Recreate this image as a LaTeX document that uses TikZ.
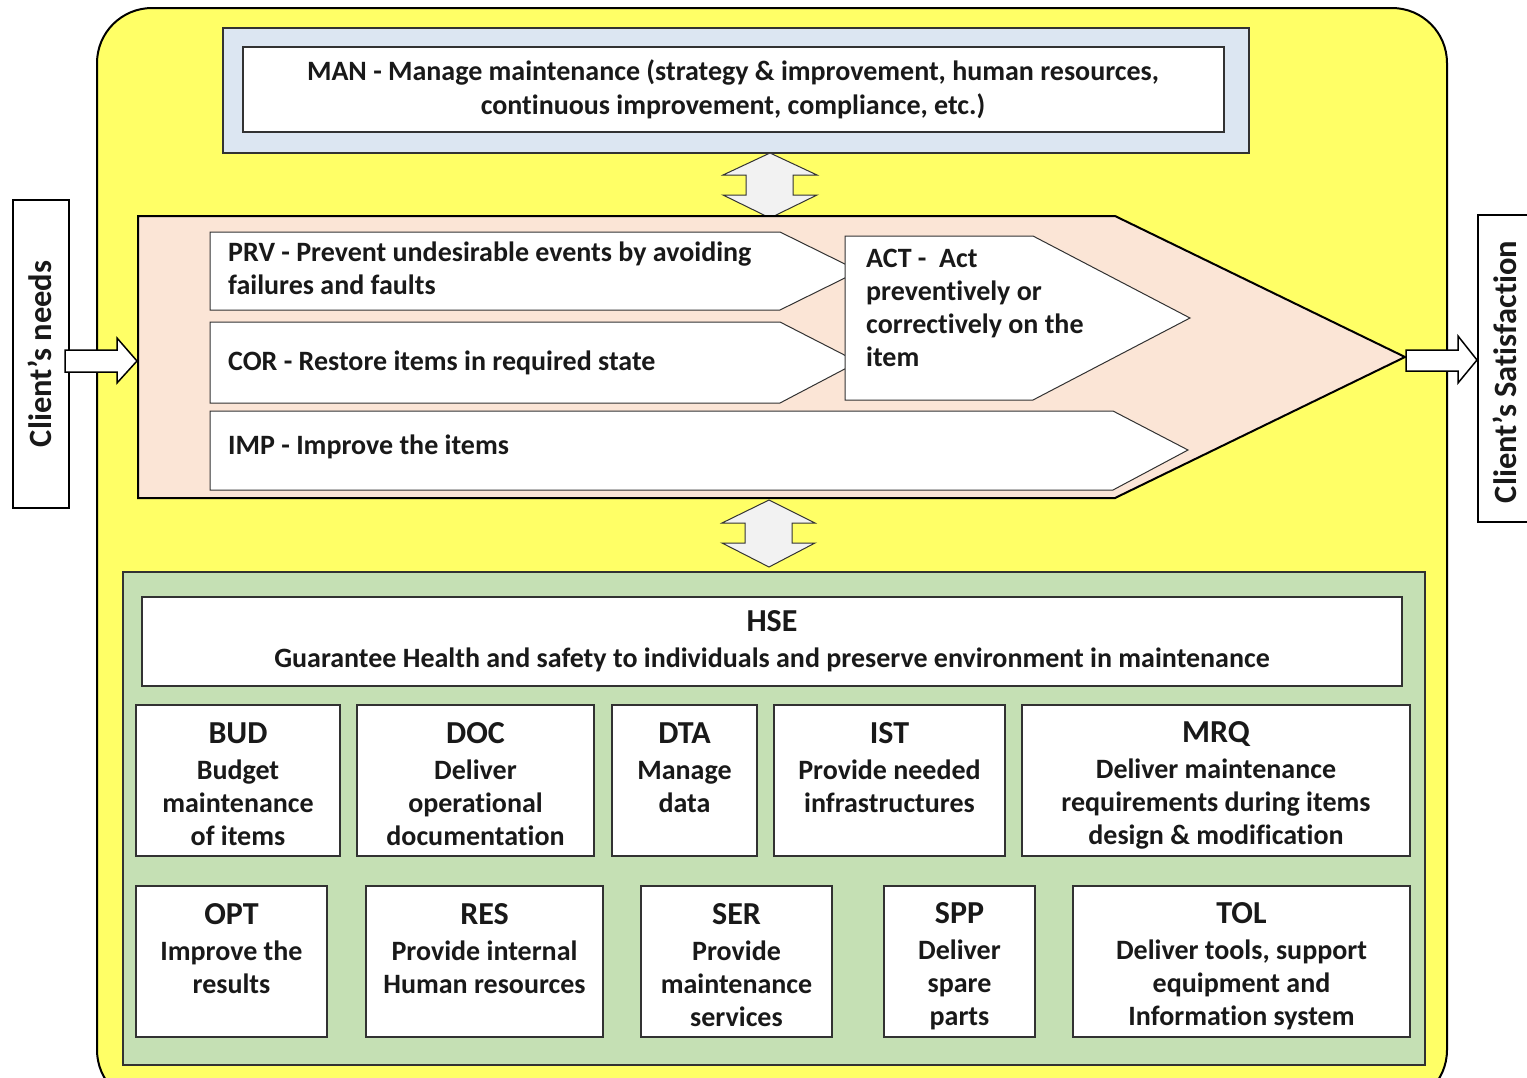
\documentclass[tikz,border=0pt]{standalone}
\usepackage{fontspec}
\setmainfont{Carlito}[Ligatures=NoCommon]
\usetikzlibrary{fit}
\definecolor{yellowbg}{RGB}{255,255,102}
\definecolor{bluebg}{RGB}{220,230,242}
\definecolor{pinkbg}{RGB}{251,229,214}
\definecolor{greenbg}{RGB}{197,224,180}
\definecolor{arrowbg}{RGB}{242,242,242}
\definecolor{edge}{RGB}{50,50,50}
\begin{document}
\begin{tikzpicture}[x=1pt,y=-1pt,
  lbl/.style={font=\bfseries\fontsize{28}{33}\selectfont, inner sep=0pt, text=black!90},
  box/.style={draw=edge, line width=1.3pt, fill=white, inner sep=0pt},
  panel/.style={draw=edge, line width=1.5pt, inner sep=0pt},
  penta/.style={draw=edge, line width=1pt, fill=white},
  blockarrow/.style={draw=black, line width=1.5pt, fill=white, line join=miter},
  dblarrow/.style={draw=black!80, line width=1pt, fill=arrowbg}]
\newcommand{\ttl}[1]{{\fontsize{32}{33}\selectfont #1}}
\useasboundingbox (0,0) rectangle (1527,1077);
\clip (0,0) rectangle (1527,1077);

% outer yellow frame
\node[draw=black, line width=2pt, fill=yellowbg, rounded corners=55pt, inner sep=0pt,
      fit={(97,8)(1447,1105)}] (outer) {};

% MAN
\node[panel, fill=bluebg, fit={(223,28)(1249,153)}] (manpanel) {};
\node[box, fit={(243,47)(1224,132)}] (man) {};
\node[lbl, font=\bfseries\fontsize{28}{34}\selectfont, align=center] (mantext) at (733,89.5)
  {MAN - Manage maintenance (strategy \& improvement, human resources,\\continuous improvement, compliance, etc.)};

% double arrows
\draw[dblarrow] (770,153) -- (817,175) -- (793,175) -- (793,195) -- (817,195) -- (770,218)
  -- (723,195) -- (746,195) -- (746,175) -- (723,175) -- cycle;
\draw[dblarrow] (769,500) -- (815,523) -- (792,523) -- (792,543) -- (815,543) -- (769,567)
  -- (722,543) -- (745,543) -- (745,523) -- (722,523) -- cycle;

% pink process arrow
\draw[draw=black, line width=2pt, fill=pinkbg, line join=miter]
  (138,216) -- (1115,216) -- (1405,357) -- (1115,498) -- (138,498) -- cycle;

\draw[penta] (210,232) -- (780,232) -- (859,271) -- (780,310) -- (210,310) -- cycle;
\draw[penta] (210,322) -- (780,322) -- (858,362) -- (780,403) -- (210,403) -- cycle;
\draw[penta] (845,236) -- (1033,236) -- (1190,318) -- (1033,400) -- (845,400) -- cycle;
\draw[penta] (210,411) -- (1113,411) -- (1188,450) -- (1113,490) -- (210,490) -- cycle;

\node[lbl, align=left, anchor=west] (prv) at (228,268)
  {PRV - Prevent undesirable events by avoiding\\failures and faults};
\node[lbl, anchor=west] (cor) at (228,363) {COR - Restore items in required state};
\node[lbl, anchor=west] (imp) at (228,447) {IMP - Improve the items};
\node[lbl, align=left, anchor=west] (act) at (866,308)
  {ACT -\ \ Act\\preventively or\\correctively on the\\item};

% client boxes
\node[draw=black, line width=2pt, fill=white, inner sep=0pt, fit={(13,200)(69,508)}] (needs) {};
\node[lbl, font=\bfseries\fontsize{32.5}{33}\selectfont, rotate=90] at (40,354) {Client’s needs};
\draw[blockarrow] (65,350) -- (117,350) -- (117,338) -- (137,361) -- (117,383) -- (117,372) -- (65,372) -- cycle;

\node[draw=black, line width=2pt, fill=white, inner sep=0pt, fit={(1478,215)(1545,522)}] (satis) {};
\node[lbl, font=\bfseries\fontsize{32.5}{33}\selectfont, rotate=90] at (1505,372) {Client’s Satisfaction};
\draw[blockarrow] (1406,350) -- (1458,350) -- (1458,336) -- (1477,360) -- (1458,383) -- (1458,371) -- (1406,371) -- cycle;

% support panel
\node[panel, fill=greenbg, fit={(123,572)(1425,1065)}] (support) {};
\node[box, fit={(142,597)(1402,686)}] (hse) {};
\node[lbl, align=center] at (772,641.5)
  {\ttl{HSE}\\[3pt]Guarantee Health and safety to individuals and preserve environment in maintenance};

% row 1
\node[box, fit={(136,705)(340,856)}] (bud) {};
\node[box, fit={(357,705)(594,856)}] (doc) {};
\node[box, fit={(612,705)(757,856)}] (dta) {};
\node[box, fit={(774,705)(1005,856)}] (ist) {};
\node[box, fit={(1022,705)(1410,856)}] (mrq) {};
% row 2
\node[box, fit={(136,886)(327,1037)}] (opt) {};
\node[box, fit={(366,886)(603,1037)}] (res) {};
\node[box, fit={(641,886)(832,1037)}] (ser) {};
\node[box, fit={(884,886)(1035,1037)}] (spp) {};
\node[box, fit={(1073,886)(1410,1037)}] (tol) {};

\node[lbl, align=center] at (238,784) {\ttl{BUD}\\[3pt]Budget\\maintenance\\of items};
\node[lbl, align=center] at (475.5,784) {\ttl{DOC}\\[3pt]Deliver\\operational\\documentation};
\node[lbl, align=center] at (684.5,768) {\ttl{DTA}\\[3pt]Manage\\data};
\node[lbl, align=center] at (889.5,768) {\ttl{IST}\\[3pt]Provide needed\\infrastructures};
\node[lbl, align=center] at (1216,785.5) {\ttl{MRQ}\\[3pt]Deliver maintenance\\requirements during items\\design \& modification};

\node[lbl, align=center] at (231.5,949) {\ttl{OPT}\\[3pt]Improve the\\results};
\node[lbl, align=center] at (484.5,949) {\ttl{RES}\\[3pt]Provide internal\\Human resources};
\node[lbl, align=center] at (736.5,965) {\ttl{SER}\\[3pt]Provide\\maintenance\\services};
\node[lbl, align=center] at (959.5,966) {\ttl{SPP}\\[3pt]Deliver\\spare\\parts};
\node[lbl, align=center] at (1241.5,966) {\ttl{TOL}\\[3pt]Deliver tools, support\\equipment and\\Information system};
\end{tikzpicture}
\end{document}
